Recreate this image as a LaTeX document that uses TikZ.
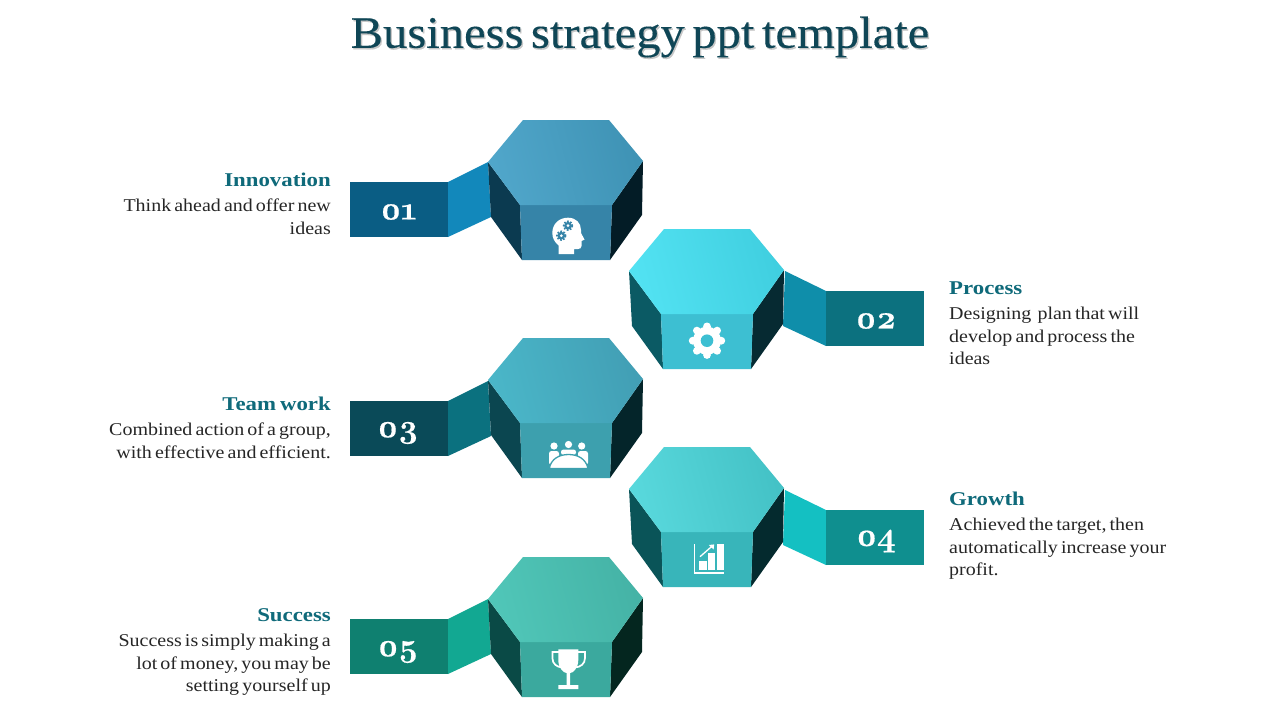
\documentclass[tikz,border=0pt]{standalone}
\usepackage{fontspec}
\setmainfont[FakeStretch=1.11,WordSpace=0.62]{Liberation Serif}
\newfontfamily\titlefont[FakeStretch=1.08,WordSpace=0.62,FakeBold=0.25]{Liberation Serif}
\newfontfamily\headfont[FakeStretch=1.17,WordSpace=0.7]{Liberation Serif}
\newfontfamily\numfont[Numbers=OldStyle,LetterSpace=-2,BoldFeatures={FakeBold=0.5}]{Latin Modern Roman}
\definecolor{headc}{HTML}{0F6A7A}
\definecolor{bodyc}{HTML}{262626}
\definecolor{titlec}{HTML}{0F4656}
\definecolor{ta1}{HTML}{50A6CA}\definecolor{tb1}{HTML}{3F93B5}\definecolor{fr1}{HTML}{3684A8}\definecolor{le1}{HTML}{0B3A50}\definecolor{ri1}{HTML}{031C26}\definecolor{re1}{HTML}{0A5D84}\definecolor{fo1}{HTML}{1288BB}
\definecolor{ta2}{HTML}{52E2F2}\definecolor{tb2}{HTML}{40CFE0}\definecolor{fr2}{HTML}{3DBFD2}\definecolor{le2}{HTML}{0B5A64}\definecolor{ri2}{HTML}{062A32}\definecolor{re2}{HTML}{0C717F}\definecolor{fo2}{HTML}{0F8EAA}
\definecolor{ta3}{HTML}{4AB6C8}\definecolor{tb3}{HTML}{429FB5}\definecolor{fr3}{HTML}{3DA0AE}\definecolor{le3}{HTML}{0B4650}\definecolor{ri3}{HTML}{04252A}\definecolor{re3}{HTML}{0A4A58}\definecolor{fo3}{HTML}{0B717F}
\definecolor{ta4}{HTML}{58D8DC}\definecolor{tb4}{HTML}{44C2C6}\definecolor{fr4}{HTML}{38B5BA}\definecolor{le4}{HTML}{0A5458}\definecolor{ri4}{HTML}{042A2E}\definecolor{re4}{HTML}{0F8F8F}\definecolor{fo4}{HTML}{14C0C2}
\definecolor{ta5}{HTML}{50C6B8}\definecolor{tb5}{HTML}{45B3A6}\definecolor{fr5}{HTML}{3BA99E}\definecolor{le5}{HTML}{0A4A46}\definecolor{ri5}{HTML}{04261F}\definecolor{re5}{HTML}{0F8070}\definecolor{fo5}{HTML}{12A892}
\tikzset{
  headtxt/.style={font=\headfont\fontsize{19.5}{22}\selectfont\bfseries,text=headc,inner sep=0pt},
  bodyr/.style={font=\fontsize{18}{22.4}\selectfont,text=bodyc,align=right,anchor=north east,inner sep=0pt},
  bodyl/.style={font=\fontsize{18}{22.4}\selectfont,text=bodyc,align=left,anchor=north west,inner sep=0pt},
  numb/.style={font=\numfont\fontsize{33}{33}\selectfont\bfseries,text=white,inner sep=0pt},
  titletxt/.style={font=\titlefont\fontsize{45}{50}\selectfont,inner sep=0pt},
}
% x y index
\newcommand{\hexa}[3]{%
  \begin{scope}[shift={(#1,#2)}]
    \fill[le#3] (488,162) -- (520,205) -- (522,260) -- (491,217) -- cycle;
    \fill[ri#3] (643,161) -- (612,205) -- (610,260) -- (642,215) -- cycle;
    \fill[fr#3] (520,205) -- (612,205) -- (610,260) -- (522,260) -- cycle;
    \shade[left color=ta#3,right color=tb#3,shading angle=105] (523,120) -- (609,120) -- (643,161) -- (612,205) -- (520,205) -- (488,162) -- cycle;
  \end{scope}}
\newcommand{\leftrib}[2]{% y-offset index
  \begin{scope}[shift={(0,#1)}]
    \fill[fo#2] (448,182) -- (488,162) -- (491,217) -- (448,237) -- cycle;
    \fill[re#2] (350,182) rectangle (448,237);
  \end{scope}}
\newcommand{\rightrib}[2]{%
  \begin{scope}[shift={(0,#1)}]
    \fill[fo#2] (826,291) -- (785,271) -- (783,326) -- (826,346) -- cycle;
    \fill[re#2] (826,291) rectangle (924,346);
  \end{scope}}
\newcommand{\minigear}[3]{% x y colour
  \fill[#3] (#1,#2) circle (3.9);
  \draw[#3,line width=1.6,dash pattern=on 1.7 off 1.5] (#1,#2) circle (4.4);
  \fill[white] (#1,#2) circle (1.5);}
\begin{document}
\begin{tikzpicture}[x=1pt,y=-1pt]
\useasboundingbox (0,0) rectangle (1280,720);
\fill[white] (0,0) rectangle (1280,720);
% title
\node[titletxt,text=black!22] (titleshadow) at (641.3,38.6) {Business strategy ppt template};
\node[titletxt,text=titlec] (title) at (640,37) {Business strategy ppt template};
% ribbons
\leftrib{0}{1}
\rightrib{0}{2}
\leftrib{219}{3}
\rightrib{219}{4}
\leftrib{437}{5}
% hexagons
\hexa{0}{0}{1}
\hexa{141}{109}{2}
\hexa{0}{218}{3}
\hexa{141}{327}{4}
\hexa{0}{437}{5}
% numbers
\node[numb] (n1) at (398.5,212) {01};
\node[numb] (n2) at (876,321) {02};
\node[numb] (n3) at (398,433) {03};
\node[numb] (n4) at (876,541) {04};
\node[numb] (n5) at (398,652) {05};
% icon 1: head with gears
\fill[white] (558.5,254) -- (558.5,245.5) .. controls (554.5,242) and (552.3,238) .. (552.3,233)
  .. controls (552.3,224) and (559,217.7) .. (568,217.7) .. controls (576,217.7) and (581,223) .. (581,230)
  -- (581,233) -- (584.5,239.5) -- (581.5,241) -- (581.5,246) .. controls (581.5,248) and (580,249) .. (578,249)
  -- (574,249) -- (574,254) -- cycle;
\minigear{568}{225.7}{fr1}
\minigear{561.3}{235.7}{fr1}
% icon 2: gear
\fill[white] (707,340.7) circle (14);
\foreach \a in {0,45,...,315}
  \fill[white] (707,340.7) ++(\a:14.3) circle (3.9);
\fill[fr2] (707,340.7) circle (6.3);
% icon 3: team around a table
\fill[white] (554,446) circle (3.6);
\fill[white] (568.5,444.5) circle (3.6);
\fill[white] (581.7,446) circle (3.6);
\fill[white,rounded corners=2.5] (549,465) -- (549,451) -- (559,451) -- (559,460) -- cycle;
\fill[white,rounded corners=2.5] (578,460) -- (578,451) -- (588,451) -- (588,465) -- cycle;
\fill[white,rounded corners=2.5] (561,455) -- (561,449.5) -- (576,449.5) -- (576,455) -- cycle;
\draw[fr3,line width=1.3,fill=white] (549.3,468.5) .. controls (551,459) and (559,454.5) .. (568.6,454.5) .. controls (578,454.5) and (586,459) .. (588,468.5) -- cycle;
% icon 4: chart
\draw[white,line width=1.5] (694.6,544) -- (694.6,573) -- (724.4,573);
\fill[white] (699.3,561) rectangle (707,569.5);
\fill[white] (708.3,553.3) rectangle (714.7,569.5);
\fill[white] (717.3,544) rectangle (724,569.5);
\draw[white,line width=1.3] (700,556.7) -- (712,546.2);
\fill[white] (714.2,544.4) -- (713.6,549.5) -- (708.8,545) -- cycle;
% icon 5: trophy
\draw[white,line width=1.7] (559,652) -- (552.4,652) -- (552.4,658) .. controls (552.4,664) and (557,667) .. (562,667.5);
\draw[white,line width=1.7] (578,652) -- (585,652) -- (585,658) .. controls (585,664) and (580.5,667) .. (575,667.5);
\fill[white] (558.3,649.3) -- (578.3,649.3) -- (578.3,660) .. controls (578.3,668) and (573,673) .. (570.2,673) -- (570.2,685) -- (578.3,685) -- (578.3,689) -- (558.3,689) -- (558.3,685) -- (566.6,685) -- (566.6,673) .. controls (563.5,673) and (558.3,668) .. (558.3,660) -- cycle;
% labels, left side
\node[headtxt,anchor=east] (h1) at (331,180) {Innovation};
\node[bodyr] (b1) at (331,199) {Think ahead and offer new\\ideas};
\node[headtxt,anchor=east] (h3) at (331,404) {Team work};
\node[bodyr] (b3) at (331,423) {Combined action of a group,\\with effective and efficient.};
\node[headtxt,anchor=east] (h5) at (331,615) {Success};
\node[bodyr] (b5) at (331,634) {Success is simply making a\\lot of money, you may be\\setting yourself up};
% labels, right side
\node[headtxt,anchor=west] (h2) at (949,288) {Process};
\node[bodyl] (b2) at (949,307) {Designing\ \ plan that will\\develop and process the\\ideas};
\node[headtxt,anchor=west] (h4) at (949,499) {Growth};
\node[bodyl] (b4) at (949,518) {Achieved the target, then\\automatically increase your\\profit.};
\end{tikzpicture}
\end{document}
